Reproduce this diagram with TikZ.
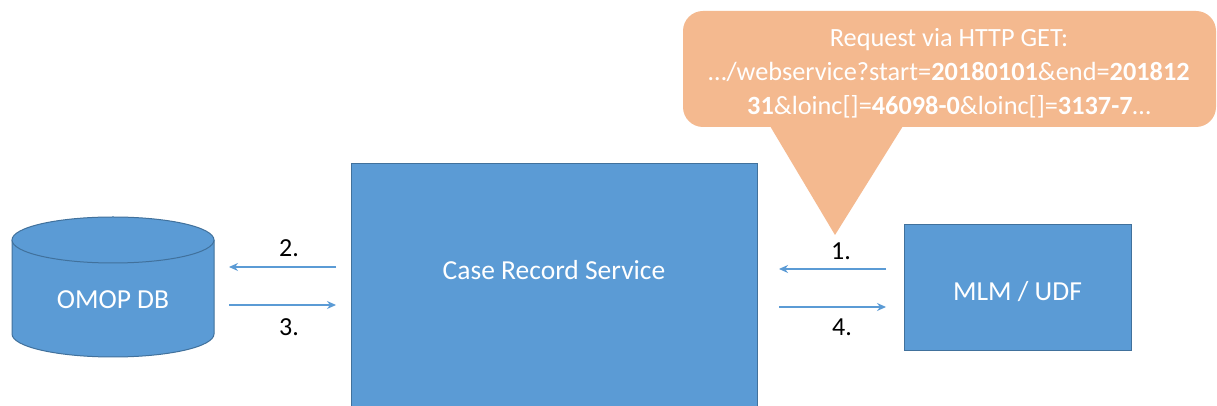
\documentclass[tikz,border=0pt]{standalone}
\usepackage{fontspec}
\setmainfont{Carlito}
\usetikzlibrary{arrows.meta,calc}
\definecolor{boxblue}{HTML}{5B9BD5}
\definecolor{boxedge}{HTML}{41719C}
\definecolor{callout}{HTML}{F4B98F}
\tikzset{
  box/.style={draw=boxedge, line width=1pt, fill=boxblue, inner sep=0pt},
  boxtext/.style={text=white, font=\fontsize{27.5}{32}\selectfont, inner sep=0pt},
  num/.style={text=black, font=\fontsize{26}{30}\selectfont, inner sep=0pt},
  flow/.style={draw=boxblue, line width=1.3pt, -{Stealth[length=9pt,width=8pt]}},
}
\begin{document}
\begin{tikzpicture}[x=1pt,y=1pt]
\useasboundingbox[fill=white] (0,0) rectangle (1217,406);

% Case Record Service
\node[box, minimum width=406pt, minimum height=250pt, anchor=north west] (crs) at (351,243) {};
\node[boxtext] (crstext) at (554,136) {Case Record Service};

% MLM / UDF
\node[box, minimum width=227pt, minimum height=126pt] (mlm) at (1017.5,118) {};
\node[boxtext] (mlmtext) at (1017.5,114) {MLM / UDF};

% OMOP DB cylinder
\fill[boxblue] (12,166) -- (12,72) arc[start angle=180, end angle=360, x radius=101, y radius=23] -- (214,166) -- cycle;
\draw[boxedge, line width=1pt] (12,166) -- (12,72) arc[start angle=180, end angle=360, x radius=101, y radius=23] -- (214,166);
\draw[boxedge, line width=1pt, fill=boxblue] (113,166) ellipse[x radius=101, y radius=23];
\node[boxtext] (omop) at (113,106) {OMOP DB};

% arrows left
\coordinate (a2s) at (336,139); \coordinate (a2e) at (229,139);
\coordinate (a3s) at (229,101); \coordinate (a3e) at (336,101);
\draw[flow] (a2s) -- (a2e);
\draw[flow] (a3s) -- (a3e);
\node[num] (n2) at (289,158) {2.};
\node[num] (n3) at (289,79) {3.};

% arrows right
\coordinate (a1s) at (886,137); \coordinate (a1e) at (779,137);
\coordinate (a4s) at (779,99); \coordinate (a4e) at (886,99);
\draw[flow] (a1s) -- (a1e);
\draw[flow] (a4s) -- (a4e);
\node[num] (n1) at (841,155) {1.};
\node[num] (n4) at (842,79) {4.};

% callout
\node[fill=callout, rounded corners=20pt, minimum width=533pt, minimum height=116pt, inner sep=0pt] (call) at (949.5,337) {};
\coordinate (tip) at (835,171);
\fill[callout] (770,280) -- (tip) -- (903,280) -- cycle;
\node[text=white, align=center, font=\fontsize{26.3}{34}\selectfont, inner sep=0pt] (calltext) at (949,333)
  {Request via HTTP GET:\\
   \ldots/webservice?start=\textbf{20180101}\&end=\textbf{201812}\\
   \textbf{31}\&loinc[]=\textbf{46098-0}\&loinc[]=\textbf{3137-7}\ldots};
\end{tikzpicture}
\end{document}
